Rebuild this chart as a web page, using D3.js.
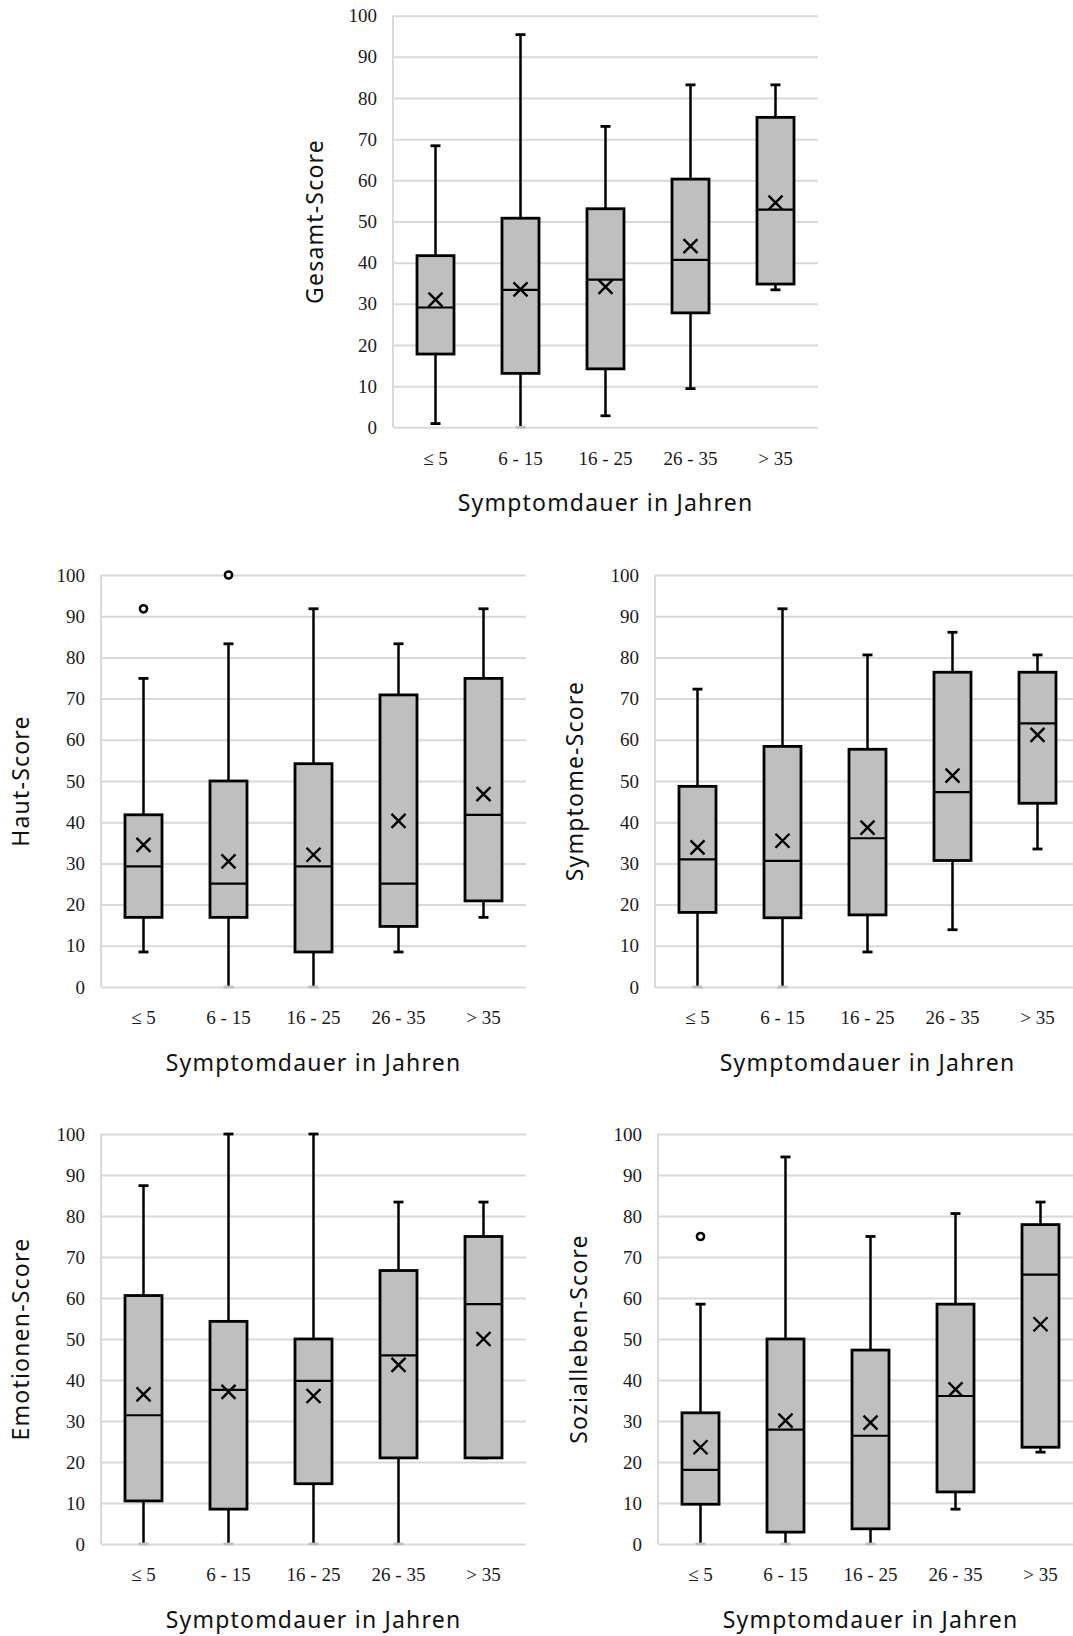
<!DOCTYPE html>
<html lang="de">
<head>
<meta charset="UTF-8">
<title>Symptomdauer Boxplots</title>
<script src="https://d3js.org/d3.v7.min.js"></script>
<style>
  body { margin: 0; background: #fff; }
  .tick text { font-family: "Liberation Serif", serif; font-size: 19px; fill: #1a1a1a; }
  .title { font-family: "Noto Sans", "Open Sans", sans-serif; font-size: 23px; letter-spacing: 1.2px; fill: #111; }
</style>
</head>
<body>
<svg id="chart"></svg>
<script>
const W = 1073, H = 1636;

// categories and y ticks
const categories = ["≤ 5", "6 - 15", "16 - 25", "26 - 35", "> 35"];
const yTicks = [0, 10, 20, 30, 40, 50, 60, 70, 80, 90, 100];
const xTitle = "Symptomdauer in Jahren";

// per category: [min, q1, median, q3, max, mean]
const gesamt = [
  [0.9, 17.8, 29.1, 41.7, 68.4, 31.0],
  [0, 13.1, 33.4, 50.8, 95.4, 33.5],
  [2.8, 14.2, 35.9, 53.1, 73.1, 34.1],
  [9.4, 27.8, 40.7, 60.3, 83.2, 44.0],
  [33.4, 34.8, 52.9, 75.3, 83.2, 54.6]
];
const haut = [
  [8.5, 16.9, 29.3, 41.8, 74.9, 34.5],
  [0, 16.9, 25.1, 50.0, 83.3, 30.5],
  [0, 8.5, 29.3, 54.2, 91.8, 32.1],
  [8.5, 14.7, 25.1, 70.9, 83.3, 40.3],
  [16.9, 20.9, 41.8, 74.9, 91.8, 46.8]
];
const symptome = [
  [0, 18.1, 31.0, 48.7, 72.3, 33.9],
  [0, 16.8, 30.6, 58.4, 91.8, 35.5],
  [8.5, 17.5, 36.1, 57.7, 80.6, 38.7],
  [13.9, 30.7, 47.3, 76.4, 86.1, 51.3],
  [33.5, 44.6, 64.0, 76.4, 80.6, 61.2]
];
const emotionen = [
  [0, 10.5, 31.4, 60.6, 87.4, 36.5],
  [0, 8.5, 37.6, 54.3, 100, 37.1],
  [0, 14.7, 39.8, 50.0, 100, 36.1],
  [0, 21.0, 46.0, 66.7, 83.4, 43.7],
  [21.0, 21.0, 58.5, 75.0, 83.4, 50.0]
];
const sozialleben = [
  [0, 9.7, 18.1, 32.0, 58.5, 23.6],
  [0, 2.9, 27.9, 50.0, 94.4, 30.1],
  [0, 3.7, 26.4, 47.3, 75.0, 29.6],
  [8.5, 12.7, 36.1, 58.5, 80.6, 37.7],
  [22.4, 23.6, 65.7, 77.9, 83.4, 53.6]
];

// outliers: [category index, value]
const hautOut = [[0, 91.8], [1, 100]];
const soziallebenOut = [[0, 75.0]];

const panels = [
  { label: "Gesamt-Score", data: gesamt, out: [], left: 393, top: 15.7, bottom: 427.3, labelX: 315 },
  { label: "Haut-Score", data: haut, out: hautOut, left: 101, top: 575, bottom: 987, labelX: 21 },
  { label: "Symptome-Score", data: symptome, out: [], left: 655, top: 575, bottom: 987, labelX: 575 },
  { label: "Emotionen-Score", data: emotionen, out: [], left: 101, top: 1134, bottom: 1544, labelX: 21 },
  { label: "Sozialleben-Score", data: sozialleben, out: soziallebenOut, left: 658, top: 1134, bottom: 1544, labelX: 579 }
];

const svg = d3.select("#chart").attr("width", W).attr("height", H);

const plotW = 425, boxW = 37, capW = 10, mk = 7;
const grid = "#d9d9d9", fill = "#bfbfbf";

panels.forEach(p => {
  const x = d3.scaleBand().domain(categories).range([p.left, p.left + plotW]).padding(0);
  const y = d3.scaleLinear().domain([0, 100]).range([p.bottom, p.top]);
  const g = svg.append("g");

  // gridlines + y labels
  const ya = g.append("g")
    .attr("transform", `translate(${p.left},0)`)
    .call(d3.axisLeft(y).tickValues(yTicks).tickSize(-plotW).tickPadding(16));
  ya.select(".domain").remove();
  ya.selectAll(".tick line").attr("stroke", grid).attr("stroke-width", 2);

  // vertical axis line
  g.append("line")
    .attr("x1", p.left).attr("x2", p.left)
    .attr("y1", y(100)).attr("y2", y(0))
    .attr("stroke", grid).attr("stroke-width", 2);

  // x labels
  const xa = g.append("g")
    .attr("transform", `translate(0,${p.bottom})`)
    .call(d3.axisBottom(x).tickSize(0).tickPadding(24));
  xa.select(".domain").remove();

  const cx = d => x(categories[d.i]) + x.bandwidth() / 2;
  const rows = p.data.map((v, i) => ({ i, min: v[0], q1: v[1], med: v[2], q3: v[3], max: v[4], mean: v[5] }));

  const b = g.selectAll(".box").data(rows).join("g").attr("class", "box");

  // whiskers
  b.append("line")
    .attr("x1", cx).attr("x2", cx)
    .attr("y1", d => y(d.max)).attr("y2", d => y(d.q3))
    .attr("stroke", "#000").attr("stroke-width", 2.5);
  b.append("line")
    .attr("x1", cx).attr("x2", cx)
    .attr("y1", d => y(d.q1)).attr("y2", d => y(d.min))
    .attr("stroke", "#000").attr("stroke-width", 2.5);
  // caps
  [d => d.max, d => d.min].forEach(f => {
    b.append("line")
      .attr("x1", d => cx(d) - capW / 2).attr("x2", d => cx(d) + capW / 2)
      .attr("y1", d => y(f(d))).attr("y2", d => y(f(d)))
      .attr("stroke", d => f(d) === 0 ? "#bdbdbd" : "#000")
      .attr("stroke-width", 2.8);
  });

  // box
  b.append("rect")
    .attr("x", d => cx(d) - boxW / 2)
    .attr("y", d => y(d.q3))
    .attr("width", boxW)
    .attr("height", d => y(d.q1) - y(d.q3))
    .attr("fill", fill).attr("stroke", "#000").attr("stroke-width", 2.8);

  // median
  b.append("line")
    .attr("x1", d => cx(d) - boxW / 2).attr("x2", d => cx(d) + boxW / 2)
    .attr("y1", d => y(d.med)).attr("y2", d => y(d.med))
    .attr("stroke", "#000").attr("stroke-width", 2.2);

  // mean marker (x)
  b.append("path")
    .attr("d", d => {
      const px = cx(d), py = y(d.mean);
      return `M${px - mk},${py - mk}L${px + mk},${py + mk}M${px - mk},${py + mk}L${px + mk},${py - mk}`;
    })
    .attr("stroke", "#000").attr("stroke-width", 2.4).attr("fill", "none");

  // outliers
  g.selectAll(".out").data(p.out).join("circle")
    .attr("class", "out")
    .attr("cx", d => x(categories[d[0]]) + x.bandwidth() / 2)
    .attr("cy", d => y(d[1]))
    .attr("r", 3.6)
    .attr("fill", "#fff").attr("stroke", "#000").attr("stroke-width", 2.5);

  // axis titles
  g.append("text")
    .attr("class", "title")
    .attr("transform", `translate(${p.labelX},${(p.top + p.bottom) / 2}) rotate(-90)`)
    .attr("text-anchor", "middle").attr("dy", "0.35em")
    .text(p.label);

  g.append("text")
    .attr("class", "title")
    .attr("x", p.left + plotW / 2)
    .attr("y", p.bottom + 84)
    .attr("text-anchor", "middle")
    .text(xTitle);
});
</script>
</body>
</html>
